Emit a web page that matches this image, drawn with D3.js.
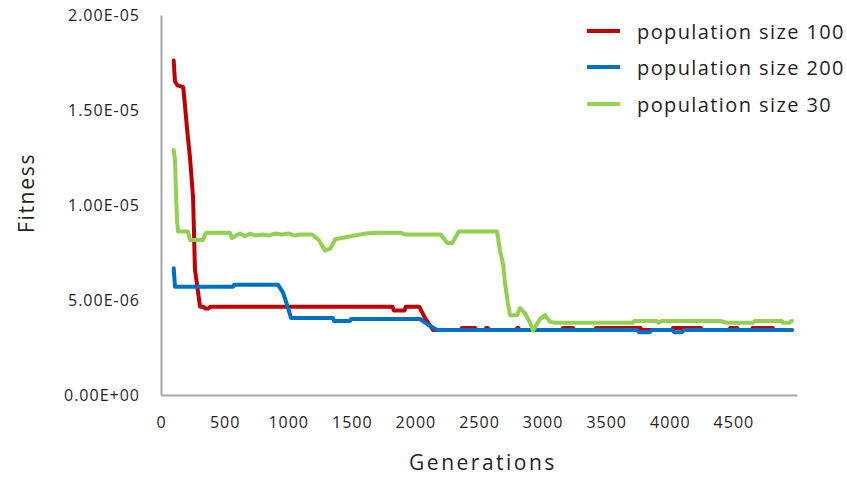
<!DOCTYPE html>
<html>
<head>
<meta charset="utf-8">
<script src="https://cdn.jsdelivr.net/npm/d3@7/dist/d3.min.js"></script>
<style>
  html, body { margin: 0; padding: 0; background: #ffffff; }
  svg { display: block; }
  text { font-family: "Open Sans", "DejaVu Sans", sans-serif; fill: #1f1f1f; }
</style>
</head>
<body>
<svg id="chart" width="847" height="477"></svg>
<script>
// ---------------- data ----------------
const seriesNames = ["population size 100", "population size 200", "population size 30"];
const seriesColors = ["#C00000", "#0070C0", "#92D050"];

// population size 100 (generation, fitness)
const pop100Gen = [100, 110, 130, 175, 189, 205, 228, 252, 267, 307, 330, 350, 370, 390, 1820, 1830, 1915, 1925, 2030, 2080, 2140,
  2360, 2366, 2470, 2476, 2550, 2556, 2570, 2576, 2795, 2800, 2810, 2815, 3155, 3160, 3240, 3245, 3415, 3420, 3770, 3775,
  4020, 4025, 4245, 4250, 4470, 4475, 4530, 4535, 4645, 4650, 4810, 4815, 4960];
const pop100Fit = [17.6e-6, 16.5e-6, 16.3e-6, 16.2e-6, 15.2e-6, 14.0e-6, 12.5e-6, 10.4e-6, 6.6e-6, 4.65e-6, 4.65e-6, 4.55e-6, 4.55e-6, 4.65e-6, 4.65e-6, 4.45e-6, 4.45e-6, 4.65e-6, 4.65e-6, 4.0e-6, 3.42e-6,
  3.42e-6, 3.52e-6, 3.52e-6, 3.42e-6, 3.42e-6, 3.52e-6, 3.52e-6, 3.42e-6, 3.42e-6, 3.52e-6, 3.52e-6, 3.42e-6, 3.42e-6, 3.52e-6, 3.52e-6, 3.42e-6, 3.42e-6, 3.52e-6, 3.52e-6, 3.42e-6,
  3.42e-6, 3.52e-6, 3.52e-6, 3.42e-6, 3.42e-6, 3.52e-6, 3.52e-6, 3.42e-6, 3.42e-6, 3.52e-6, 3.52e-6, 3.42e-6, 3.42e-6];

// population size 200 (generation, fitness)
const pop200Gen = [100, 110, 566, 575, 920, 959, 998, 1022, 1352, 1360, 1486, 1495, 2036, 2100, 2170, 3740, 3760, 3840, 3860, 4020, 4035, 4095, 4110, 4960];
const pop200Fit = [6.67e-6, 5.7e-6, 5.7e-6, 5.8e-6, 5.8e-6, 5.4e-6, 4.6e-6, 4.05e-6, 4.05e-6, 3.9e-6, 3.9e-6, 4.0e-6, 4.0e-6, 3.7e-6, 3.42e-6, 3.42e-6, 3.3e-6, 3.3e-6, 3.42e-6, 3.42e-6, 3.3e-6, 3.3e-6, 3.42e-6, 3.42e-6];

// population size 30 (generation, fitness)
const pop30Gen = [100, 110, 118, 126, 134, 212, 228, 330, 354, 542, 558, 621, 660, 700, 740, 800, 850, 900, 950, 1000, 1050, 1100, 1188, 1240, 1290, 1330, 1370, 1450, 1530, 1610, 1690,
  1879, 1918, 2036, 2200, 2250, 2290, 2340, 2642, 2665, 2689, 2704, 2728, 2744, 2799, 2822, 2862, 2901, 2925, 2980, 3019, 3058, 3097,
  3711, 3720, 3899, 3910, 3940, 4395, 4450, 4654, 4670, 4880, 4890, 4940, 4960];
const pop30Fit = [12.9e-6, 12.4e-6, 10.6e-6, 9.2e-6, 8.6e-6, 8.6e-6, 8.16e-6, 8.16e-6, 8.54e-6, 8.54e-6, 8.26e-6, 8.5e-6, 8.35e-6, 8.5e-6, 8.4e-6, 8.45e-6, 8.4e-6, 8.5e-6, 8.45e-6, 8.5e-6, 8.4e-6, 8.45e-6, 8.45e-6, 8.16e-6, 7.6e-6, 7.7e-6, 8.2e-6, 8.3e-6, 8.4e-6, 8.5e-6, 8.54e-6,
  8.54e-6, 8.45e-6, 8.45e-6, 8.45e-6, 8.0e-6, 8.0e-6, 8.6e-6, 8.6e-6, 7.6e-6, 6.9e-6, 5.9e-6, 4.8e-6, 4.2e-6, 4.2e-6, 4.58e-6, 4.3e-6, 3.8e-6, 3.4e-6, 4.0e-6, 4.2e-6, 3.85e-6, 3.8e-6,
  3.8e-6, 3.9e-6, 3.9e-6, 3.8e-6, 3.9e-6, 3.9e-6, 3.8e-6, 3.8e-6, 3.9e-6, 3.9e-6, 3.8e-6, 3.8e-6, 3.9e-6];

const xTickValues = [0, 500, 1000, 1500, 2000, 2500, 3000, 3500, 4000, 4500];
const yTickValues = [0, 5e-6, 1e-5, 1.5e-5, 2e-5];
const yTickLabels = ["0.00E+00", "5.00E-06", "1.00E-05", "1.50E-05", "2.00E-05"];
const xTitle = "Generations";
const yTitle = "Fitness";

// ---------------- chart ----------------
const svg = d3.select("#chart");
const x = d3.scaleLinear().domain([0, 5000]).range([161, 797]);
const y = d3.scaleLinear().domain([0, 2e-5]).range([395, 15]);

const series = [
  { name: seriesNames[0], color: seriesColors[0], gen: pop100Gen, fit: pop100Fit },
  { name: seriesNames[1], color: seriesColors[1], gen: pop200Gen, fit: pop200Fit },
  { name: seriesNames[2], color: seriesColors[2], gen: pop30Gen, fit: pop30Fit }
];

// axes
const yAxis = d3.axisLeft(y).tickValues(yTickValues)
  .tickFormat((d, i) => yTickLabels[i]).tickSize(0).tickSizeOuter(0).tickPadding(21);
const yG = svg.append("g").attr("transform", "translate(161,0)").call(yAxis);

const xAxis = d3.axisBottom(x).tickValues(xTickValues)
  .tickFormat(d3.format("d")).tickSize(0).tickSizeOuter(0).tickPadding(22);
const xG = svg.append("g").attr("transform", "translate(0,395)").call(xAxis);

[yG, xG].forEach(g => {
  g.select(".domain").attr("stroke", "#a6a6a6").attr("stroke-width", 2);
  g.selectAll("text").attr("font-family", "'Open Sans', sans-serif")
    .attr("font-size", 16).style("letter-spacing", "1px").attr("fill", "#1f1f1f");
});

// lines
const line = d3.line().x(d => x(d[0])).y(d => y(d[1]));
series.forEach(s => {
  const pts = s.gen.map((g, i) => [g, s.fit[i]]);
  svg.append("path").datum(pts)
    .attr("d", line)
    .attr("fill", "none")
    .attr("stroke", s.color)
    .attr("stroke-width", 4)
    .attr("stroke-linejoin", "round")
    .attr("stroke-linecap", "round");
});

// axis titles
svg.append("text")
  .attr("transform", "translate(26,193) rotate(-90)")
  .attr("text-anchor", "middle").attr("dominant-baseline", "central")
  .attr("font-size", 21).style("letter-spacing", "1.7px")
  .text(yTitle);
svg.append("text")
  .attr("x", 483).attr("y", 462)
  .attr("text-anchor", "middle").attr("dominant-baseline", "central")
  .attr("font-size", 21).style("letter-spacing", "2.5px")
  .text(xTitle);

// legend
const legendY = [31, 67, 104];
series.forEach((s, i) => {
  svg.append("line")
    .attr("x1", 587).attr("x2", 620)
    .attr("y1", legendY[i]).attr("y2", legendY[i])
    .attr("stroke", s.color).attr("stroke-width", 4);
  svg.append("text")
    .attr("x", 637).attr("y", legendY[i])
    .attr("dominant-baseline", "central")
    .attr("font-size", 20).style("letter-spacing", "1.4px")
    .text(s.name);
});
</script>
</body>
</html>
